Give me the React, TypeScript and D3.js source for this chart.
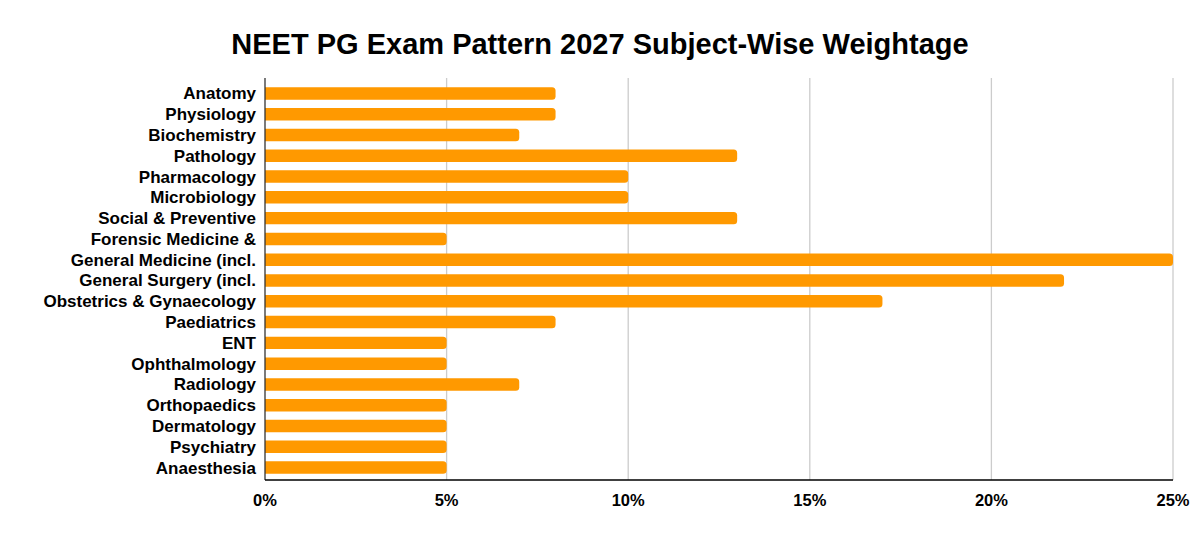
import React from 'react';
import { scaleBand, scaleLinear } from 'd3';

const subjects = [
  'Anatomy',
  'Physiology',
  'Biochemistry',
  'Pathology',
  'Pharmacology',
  'Microbiology',
  'Social & Preventive',
  'Forensic Medicine &',
  'General Medicine (incl.',
  'General Surgery (incl.',
  'Obstetrics & Gynaecology',
  'Paediatrics',
  'ENT',
  'Ophthalmology',
  'Radiology',
  'Orthopaedics',
  'Dermatology',
  'Psychiatry',
  'Anaesthesia',
];
const weightage = [8, 8, 7, 13, 10, 10, 13, 5, 25, 22, 17, 8, 5, 5, 7, 5, 5, 5, 5];
const ticks = [0, 5, 10, 15, 20, 25];

const W = 1200;
const H = 536;
const font = '"Liberation Sans", Arial, sans-serif';

// bar with only the right end rounded
function barPath(x0: number, x1: number, y: number, h: number, r: number) {
  const rr = Math.min(r, (x1 - x0) / 2, h / 2);
  return `M${x0},${y}H${x1 - rr}Q${x1},${y} ${x1},${y + rr}V${y + h - rr}Q${x1},${y + h} ${x1 - rr},${y + h}H${x0}Z`;
}

export default function App() {
  const x = scaleLinear().domain([0, 25]).range([265, 1173]);
  const y = scaleBand().domain(subjects).range([83, 478]).paddingInner(0.4).paddingOuter(0.2);
  const axisY = 480;

  return (
    <svg width={W} height={H} style={{ display: 'block', margin: '-8px' }}>
      <rect width={W} height={H} fill="#fff" />
      <text x={600} y={54} textAnchor="middle" fontFamily={font} fontWeight="bold" fontSize={29} fill="#000">
        NEET PG Exam Pattern 2027 Subject-Wise Weightage
      </text>

      {ticks.map((t) => (
        <g key={t}>
          {t > 0 && <line x1={x(t)} x2={x(t)} y1={78} y2={axisY} stroke="#cccccc" strokeWidth={1.3} />}
          <text x={x(t)} y={506} textAnchor="middle" fontFamily={font} fontWeight="bold" fontSize={16.5} fill="#000">
            {t}%
          </text>
        </g>
      ))}

      {subjects.map((s, i) => (
        <g key={s}>
          <path d={barPath(x(0), x(weightage[i]), y(s)!, y.bandwidth(), 3.5)} fill="#ff9900" />
          <text
            x={256}
            y={y(s)! + y.bandwidth() / 2}
            dy="0.35em"
            textAnchor="end"
            fontFamily={font}
            fontWeight="bold"
            fontSize={17}
            fill="#000"
          >
            {s}
          </text>
        </g>
      ))}

      <line x1={x(0)} x2={x(0)} y1={78} y2={axisY} stroke="#333" strokeWidth={1.3} />
      <line x1={x(0)} x2={x(25)} y1={axisY} y2={axisY} stroke="#000" strokeWidth={1.3} />
    </svg>
  );
}
